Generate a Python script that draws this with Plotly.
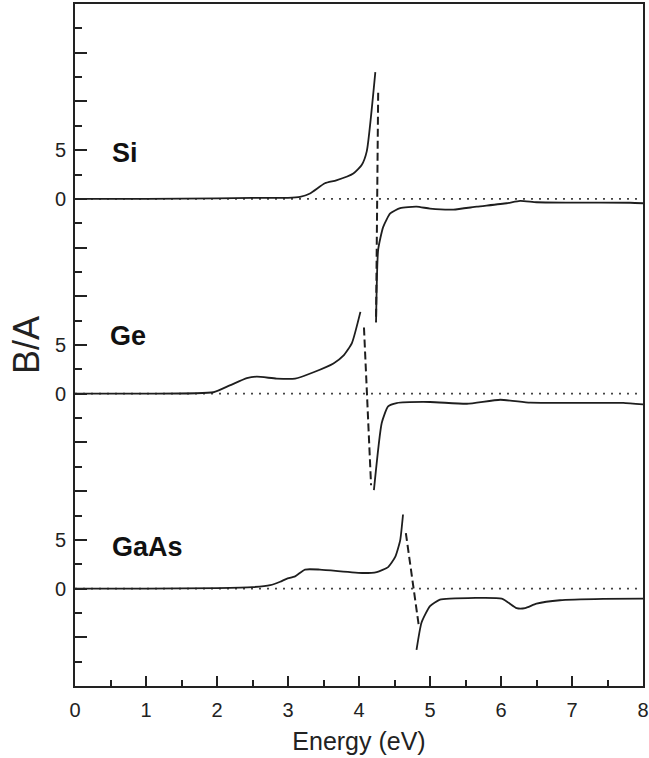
import plotly.graph_objects as go

# ---- data (B/A vs energy, each curve) ----
materials = ["Si", "Ge", "GaAs"]
offsets = [40, 20, 0]

si_pre_x = [0, 1.0, 2.0, 2.5, 3.0, 3.17, 3.31, 3.52, 3.68, 3.92, 4.04, 4.11, 4.23]
si_pre_y = [0, 0, 0.05, 0.1, 0.1, 0.2, 0.55, 1.6, 1.9, 2.6, 3.5, 4.9, 13.0]
si_dash_x = [4.27, 4.24]
si_dash_y = [10.9, -12.6]
si_post_x = [4.24, 4.27, 4.34, 4.44, 4.58, 4.81, 5.0, 5.33, 5.66, 6.08, 6.27, 6.5, 7.0, 7.82, 8.0]
si_post_y = [-12.7, -5.2, -2.9, -1.5, -0.95, -0.8, -1.0, -1.1, -0.8, -0.45, -0.2, -0.35, -0.38, -0.4, -0.45]

ge_pre_x = [0, 1.0, 1.95, 2.18, 2.42, 2.56, 2.84, 3.1, 3.36, 3.64, 3.78, 3.9, 4.02]
ge_pre_y = [0, 0, 0.15, 0.85, 1.6, 1.75, 1.55, 1.55, 2.2, 3.1, 3.9, 5.2, 8.4]
ge_dash_x = [4.07, 4.17]
ge_dash_y = [6.8, -9.4]
ge_post_x = [4.21, 4.32, 4.41, 4.53, 5.0, 5.52, 5.99, 6.41, 7.0, 7.72, 8.0]
ge_post_y = [-9.9, -3.0, -1.3, -0.96, -0.85, -1.03, -0.62, -0.92, -0.93, -0.95, -1.1]

gaas_pre_x = [0, 1.0, 2.0, 2.5, 2.75, 2.89, 2.98, 3.1, 3.24, 3.45, 4.06, 4.25, 4.41, 4.51, 4.58, 4.62]
gaas_pre_y = [0, 0, 0.05, 0.15, 0.35, 0.7, 1.0, 1.25, 1.95, 1.95, 1.6, 1.7, 2.2, 3.25, 4.95, 7.6]
gaas_dash_x = [4.66, 4.84]
gaas_dash_y = [5.7, -3.7]
gaas_post_x = [4.81, 4.88, 5.0, 5.14, 5.28, 6.01, 6.22, 6.34, 6.5, 6.83, 7.44, 8.0]
gaas_post_y = [-6.3, -3.5, -1.8, -1.13, -1.03, -1.03, -2.0, -2.0, -1.55, -1.2, -1.06, -1.03]

label_x = [0.49, 0.46, 0.49]
label_y = [44.7, 25.9, 4.3]

x_ticks = [0, 1, 2, 3, 4, 5, 6, 7, 8]
y_major = [-10, -5, 0, 5, 10, 15, 20, 25, 30, 35, 40, 45, 50, 55, 60]
y_labels = {0: "0", 5: "5", 20: "0", 25: "5", 40: "0", 45: "5"}

curves = [
    (si_pre_x, si_pre_y, si_dash_x, si_dash_y, si_post_x, si_post_y),
    (ge_pre_x, ge_pre_y, ge_dash_x, ge_dash_y, ge_post_x, ge_post_y),
    (gaas_pre_x, gaas_pre_y, gaas_dash_x, gaas_dash_y, gaas_post_x, gaas_post_y),
]

LINE = "#1e1e1e"
AX = "#222222"
fig = go.Figure()

for off in offsets:
    fig.add_trace(go.Scatter(x=[0, 8], y=[off, off], mode="lines",
                             line=dict(color="#444444", width=1.8, dash="2px,6px"),
                             showlegend=False, hoverinfo="skip"))

for (px, py, dx, dy, qx, qy), off in zip(curves, offsets):
    fig.add_trace(go.Scatter(x=px, y=[v + off for v in py], mode="lines",
                             line=dict(color=LINE, width=1.8, shape="spline", smoothing=0.5),
                             showlegend=False))
    fig.add_trace(go.Scatter(x=dx, y=[v + off for v in dy], mode="lines",
                             line=dict(color=LINE, width=2, dash="8px,4px"), showlegend=False))
    fig.add_trace(go.Scatter(x=qx, y=[v + off for v in qy], mode="lines",
                             line=dict(color=LINE, width=1.8, shape="spline", smoothing=0.5),
                             showlegend=False))

for name, lx, ly in zip(materials, label_x, label_y):
    fig.add_annotation(x=lx, y=ly, text="<b>%s</b>" % name, showarrow=False,
                       xanchor="left", yanchor="middle",
                       font=dict(family="Liberation Sans, Arial", size=27, color="#111"))

y_minor = [v + 2.5 for v in y_major[:-1]]

fig.update_layout(
    width=649, height=758,
    margin=dict(l=75, r=6, t=4, b=72, autoexpand=False),
    plot_bgcolor="white", paper_bgcolor="white",
    font=dict(family="Liberation Sans, Arial", color=AX),
    xaxis=dict(range=[0, 8], tickmode="array", tickvals=x_ticks,
               ticks="inside", ticklen=10, tickwidth=2, tickcolor=AX,
               showline=True, linewidth=2, linecolor=AX, mirror=True,
               showgrid=False, zeroline=False, automargin=False,
               tickfont=dict(size=20, color=AX), ticklabelstandoff=5,
               minor=dict(ticks="inside", tickmode="array",
                          tickvals=[v + 0.5 for v in x_ticks[:-1]],
                          ticklen=6, tickwidth=2, tickcolor=AX),
               title=dict(text="Energy (eV)", font=dict(size=25, color=AX), standoff=12)),
    yaxis=dict(range=[-10, 60], tickmode="array", tickvals=y_major,
               ticktext=[y_labels.get(v, "") for v in y_major],
               ticks="inside", ticklen=12, tickwidth=2, tickcolor=AX,
               showline=True, linewidth=2, linecolor=AX, mirror=True,
               showgrid=False, zeroline=False, automargin=False,
               tickfont=dict(size=20, color=AX), ticklabelstandoff=3,
               minor=dict(ticks="inside", tickmode="array", tickvals=y_minor,
                          ticklen=7, tickwidth=2, tickcolor=AX),
               title=dict(text="B/A", font=dict(size=36, color=AX), standoff=4)),
)

fig.write_html("out.html")
